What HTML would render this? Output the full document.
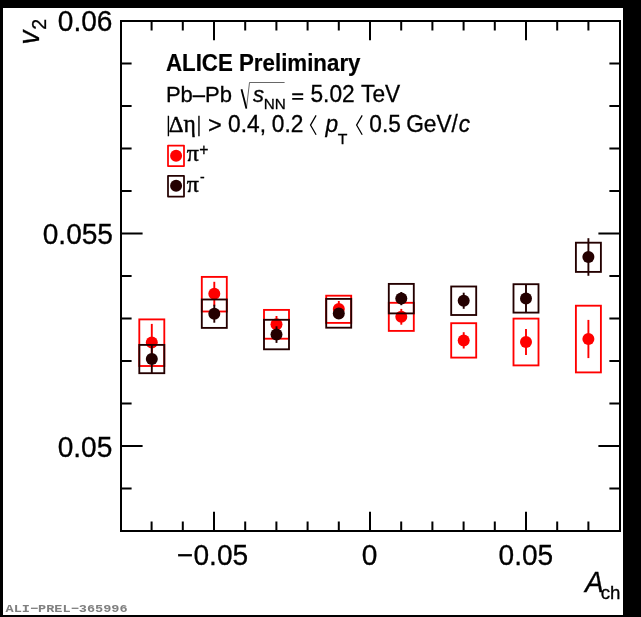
<!DOCTYPE html>
<html><head><meta charset="utf-8"><title>ALI-PREL-365996</title>
<style>
html,body{margin:0;padding:0;background:#000;}
body{width:641px;height:617px;overflow:hidden;position:relative;font-family:"Liberation Sans",sans-serif;}
#paper{position:absolute;left:3px;top:8px;width:620px;height:607px;background:#fff;}
svg{position:absolute;left:0;top:0;will-change:transform;}
text{font-family:"Liberation Sans",sans-serif;fill:#000;stroke:#000;stroke-width:0.3px;}
.i{font-style:italic;}
.b{font-weight:bold;}
.ser{font-family:"Liberation Serif",serif;}
.mono{font-family:"Liberation Mono",monospace;font-weight:bold;fill:#7f7f7f;stroke:none;}
.b{stroke-width:0.2px;}
.ser{stroke-width:0.45px;}
</style></head><body>
<div id="paper"></div>
<svg width="641" height="617" viewBox="0 0 641 617">
<rect x="121.0" y="21.0" width="499.0" height="510.0" fill="none" stroke="#000" stroke-width="2"/>
<g stroke="#000" stroke-width="2" fill="none">
<path d="M151.6 531.0v-9.5M151.6 21.0v9.5"/>
<path d="M182.8 531.0v-9.5M182.8 21.0v9.5"/>
<path d="M214.0 531.0v-19.3M214.0 21.0v19.3"/>
<path d="M245.2 531.0v-9.5M245.2 21.0v9.5"/>
<path d="M276.4 531.0v-9.5M276.4 21.0v9.5"/>
<path d="M307.6 531.0v-9.5M307.6 21.0v9.5"/>
<path d="M338.8 531.0v-9.5M338.8 21.0v9.5"/>
<path d="M370.0 531.0v-19.3M370.0 21.0v19.3"/>
<path d="M401.2 531.0v-9.5M401.2 21.0v9.5"/>
<path d="M432.4 531.0v-9.5M432.4 21.0v9.5"/>
<path d="M463.6 531.0v-9.5M463.6 21.0v9.5"/>
<path d="M494.8 531.0v-9.5M494.8 21.0v9.5"/>
<path d="M526.0 531.0v-19.3M526.0 21.0v19.3"/>
<path d="M557.2 531.0v-9.5M557.2 21.0v9.5"/>
<path d="M588.4 531.0v-9.5M588.4 21.0v9.5"/>
<path d="M121.0 63.5h10.6M620.0 63.5h-10.6"/>
<path d="M121.0 106.0h10.6M620.0 106.0h-10.6"/>
<path d="M121.0 148.5h10.6M620.0 148.5h-10.6"/>
<path d="M121.0 191.0h10.6M620.0 191.0h-10.6"/>
<path d="M121.0 233.5h21.6M620.0 233.5h-21.6"/>
<path d="M121.0 276.0h10.6M620.0 276.0h-10.6"/>
<path d="M121.0 318.5h10.6M620.0 318.5h-10.6"/>
<path d="M121.0 361.0h10.6M620.0 361.0h-10.6"/>
<path d="M121.0 403.5h10.6M620.0 403.5h-10.6"/>
<path d="M121.0 446.0h21.6M620.0 446.0h-21.6"/>
<path d="M121.0 488.5h10.6M620.0 488.5h-10.6"/>
</g>
<g stroke="#ff0000" stroke-width="1.85" fill="none">
<rect x="139.3" y="319.4" width="25.0" height="46.6"/><path d="M151.8 323.9V361.3" stroke-width="1.9"/><circle cx="151.8" cy="342.6" r="6.0" fill="#ff0000" stroke="none"/>
<rect x="201.8" y="276.9" width="25.0" height="34.6"/><path d="M214.3 281.8V305.8" stroke-width="1.9"/><circle cx="214.3" cy="293.8" r="6.0" fill="#ff0000" stroke="none"/>
<rect x="264.0" y="309.9" width="25.0" height="28.8"/><path d="M276.5 316.0V332.6" stroke-width="1.9"/><circle cx="276.5" cy="324.3" r="6.0" fill="#ff0000" stroke="none"/>
<rect x="326.2" y="295.7" width="25.0" height="27.2"/><path d="M338.8 301.0V317.0" stroke-width="1.9"/><circle cx="338.8" cy="309.0" r="6.0" fill="#ff0000" stroke="none"/>
<rect x="388.8" y="302.8" width="25.0" height="28.1"/><path d="M401.3 308.9V324.7" stroke-width="1.9"/><circle cx="401.3" cy="316.8" r="6.0" fill="#ff0000" stroke="none"/>
<rect x="451.2" y="323.2" width="25.0" height="34.4"/><path d="M463.7 332.2V348.5" stroke-width="1.9"/><circle cx="463.7" cy="340.4" r="6.0" fill="#ff0000" stroke="none"/>
<rect x="513.5" y="318.6" width="25.0" height="46.8"/><path d="M526.0 328.9V355.1" stroke-width="1.9"/><circle cx="526.0" cy="342.0" r="6.0" fill="#ff0000" stroke="none"/>
<rect x="575.9" y="305.7" width="25.0" height="66.7"/><path d="M588.4 319.9V358.1" stroke-width="1.9"/><circle cx="588.4" cy="339.0" r="6.0" fill="#ff0000" stroke="none"/>
</g>
<g stroke="#240000" stroke-width="1.85" fill="none">
<rect x="139.3" y="344.9" width="25.0" height="28.3"/><path d="M151.8 344.5V373.3" stroke-width="1.9"/><circle cx="151.8" cy="358.9" r="6.0" fill="#240000" stroke="none"/>
<rect x="201.8" y="299.5" width="25.0" height="28.4"/><path d="M214.3 304.7V322.7" stroke-width="1.9"/><circle cx="214.3" cy="313.7" r="6.0" fill="#240000" stroke="none"/>
<rect x="264.0" y="319.8" width="25.0" height="29.5"/><path d="M276.5 326.3V342.9" stroke-width="1.9"/><circle cx="276.5" cy="334.6" r="6.0" fill="#240000" stroke="none"/>
<rect x="326.2" y="298.9" width="25.0" height="28.8"/><path d="M338.8 308.5V318.5" stroke-width="1.9"/><circle cx="338.8" cy="313.5" r="6.0" fill="#240000" stroke="none"/>
<rect x="388.8" y="283.9" width="25.0" height="29.5"/><path d="M401.3 292.0V305.2" stroke-width="1.9"/><circle cx="401.3" cy="298.6" r="6.0" fill="#240000" stroke="none"/>
<rect x="451.2" y="286.5" width="25.0" height="28.5"/><path d="M463.7 292.7V308.8" stroke-width="1.9"/><circle cx="463.7" cy="300.8" r="6.0" fill="#240000" stroke="none"/>
<rect x="513.5" y="284.2" width="25.0" height="28.4"/><path d="M526.0 284.1V312.8" stroke-width="1.9"/><circle cx="526.0" cy="298.4" r="6.0" fill="#240000" stroke="none"/>
<rect x="575.9" y="242.7" width="25.0" height="29.2"/><path d="M588.4 238.2V275.8" stroke-width="1.9"/><circle cx="588.4" cy="257.0" r="6.0" fill="#240000" stroke="none"/>
</g>
<text transform="translate(57.80,30.70) scale(1,1.03)" font-size="28.1px">0.06</text>
<text transform="translate(42.70,243.90) scale(1,1.03)" font-size="28.1px">0.055</text>
<text transform="translate(57.67,456.60) scale(1,1.03)" font-size="28.1px">0.05</text>
<text transform="translate(177.09,564.80) scale(1,1.03)" font-size="28.1px">−0.05</text>
<text transform="translate(361.73,564.80) scale(1,1.03)" font-size="28.1px">0</text>
<text transform="translate(498.57,564.80) scale(1,1.03)" font-size="28.1px">0.05</text>
<text transform="translate(584.90,591.70) scale(1,1.03)" font-size="28px" class="i">A</text>
<text transform="translate(600.70,598.80) scale(1,1.03)" font-size="18.7px">ch</text>
<g transform="translate(38.5,44.6) rotate(-90)"><text transform="translate(0.00,0.00) scale(1,1.03)" font-size="28px" class="i">v</text>
<text transform="translate(14.90,7.40) scale(1,1.03)" font-size="19.5px">2</text>
</g>
<text transform="translate(165.90,70.70) scale(1,1.04)" font-size="22.3px" class="b">ALICE Preliminary</text>
<text transform="translate(165.90,102.20) scale(1,1.03)" font-size="22.0px">Pb–Pb</text>
<text transform="translate(252.90,102.20) scale(1,1.03)" font-size="22.0px" class="i">s</text>
<text transform="translate(263.80,108.70) scale(1,0.95)" font-size="15.3px">NN</text>
<path d="M292.2 94.3H303.2M292.2 98.85H303.2" fill="none" stroke="#000" stroke-width="1.9"/>
<text transform="translate(310.50,102.20) scale(1,1.03)" font-size="22.7px">5.02</text>
<text transform="translate(361.10,102.20) scale(1,1.03)" font-size="22.7px">TeV</text>
<path d="M241.5 89.2L246.4 108.5" fill="none" stroke="#000" stroke-width="1.8"/>
<path d="M246.4 108.7L249.5 82.5H284.6" fill="none" stroke="#000" stroke-width="0.6"/>
<path d="M168.4 115.7V136.3M198.95 115.7V136.3" fill="none" stroke="#000" stroke-width="1.4"/>
<text transform="translate(168.80,131.80) scale(1,1.03)" font-size="23px" class="ser">Δ</text>
<text transform="translate(183.50,131.80) scale(1,1.03)" font-size="23.5px" class="ser">η</text>
<text transform="translate(207.90,133.10) scale(1,1.03)" font-size="23.6px">&gt;</text>
<text transform="translate(228.10,131.80) scale(1,1.03)" font-size="22.7px">0.4,</text>
<text transform="translate(271.80,131.80) scale(1,1.03)" font-size="22.7px">0.2</text>
<text transform="translate(325.40,131.80) scale(1,1.03)" font-size="22.7px" class="i">p</text>
<text transform="translate(337.70,143.80) scale(1,0.89)" font-size="15.8px">T</text>
<text transform="translate(369.30,131.80) scale(1,1.03)" font-size="22.7px">0.5</text>
<text transform="translate(406.20,131.80) scale(1,1.03)" font-size="22.7px">GeV/</text>
<text transform="translate(458.70,131.80) scale(1,1.03)" font-size="22.7px" class="i">c</text>
<path d="M316.1 115.4L310.5 125.1L316.1 134.8" fill="none" stroke="#000" stroke-width="1.25"/>
<path d="M362.2 115.4L356.6 125.1L362.2 134.8" fill="none" stroke="#000" stroke-width="1.25"/>
<rect x="168" y="145.5" width="16" height="20.6" fill="none" stroke="#ff0000" stroke-width="1.75" stroke-linejoin="round"/><circle cx="176.1" cy="155.8" r="6" fill="#ff0000"/>
<rect x="168" y="175.9" width="16" height="20.6" fill="none" stroke="#240000" stroke-width="1.75" stroke-linejoin="round"/><circle cx="176.1" cy="185.7" r="6" fill="#240000"/>
<text transform="translate(186.70,161.40) scale(1,0.97)" font-size="24px" class="ser">π</text>
<text transform="translate(186.70,192.20) scale(1,0.97)" font-size="24px" class="ser">π</text>
<text transform="translate(199.30,155.00) scale(1,1.03)" font-size="15.8px">+</text>
<text transform="translate(199.90,181.70) scale(1,1.03)" font-size="14px">-</text>
<g transform="translate(5.5,612) scale(1,0.86)"><text transform="translate(0.00,0.00) scale(1,1)" font-size="13.58px" class="mono">ALI−PREL−365996</text>
</g>
</svg></body></html>
